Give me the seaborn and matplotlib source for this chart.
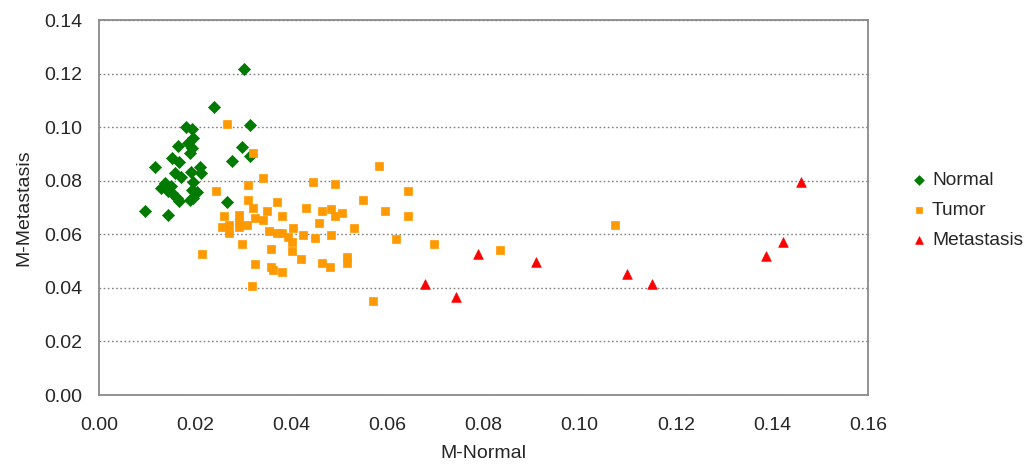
import matplotlib
matplotlib.use("Agg")
import matplotlib.pyplot as plt
import seaborn as sns
import pandas as pd

# Normal samples
normal_x = [0.0302, 0.0239, 0.0315, 0.0182, 0.0193, 0.0196, 0.0186, 0.0165, 0.0193,
            0.0189, 0.0297, 0.0314, 0.0276, 0.0151, 0.0167, 0.0117, 0.0210, 0.0158,
            0.0170, 0.0191, 0.0212, 0.0196, 0.0137, 0.0130, 0.0144, 0.0151, 0.0193,
            0.0203, 0.0162, 0.0189, 0.0196, 0.0166, 0.0267, 0.0096, 0.0144, 0.0149,
            0.0140]
normal_y = [0.1217, 0.1074, 0.1008, 0.0999, 0.0992, 0.0958, 0.0939, 0.0929, 0.0921,
            0.0904, 0.0927, 0.0892, 0.0873, 0.0883, 0.0869, 0.0852, 0.0850, 0.0828,
            0.0813, 0.0831, 0.0828, 0.0796, 0.0793, 0.0771, 0.0763, 0.0753, 0.0765,
            0.0759, 0.0736, 0.0728, 0.0736, 0.0724, 0.0722, 0.0688, 0.0671, 0.0781,
            0.0776]

# Tumor samples
tumor_x = [0.0267, 0.0321, 0.0583, 0.0342, 0.0446, 0.0492, 0.0309, 0.0243, 0.0309,
           0.0549, 0.0371, 0.0321, 0.0431, 0.0350, 0.0464, 0.0482, 0.0596, 0.0261,
           0.0292, 0.0381, 0.0492, 0.0506, 0.0292, 0.0324, 0.0342, 0.0256, 0.0271,
           0.0271, 0.0292, 0.0307, 0.0458, 0.0354, 0.0371, 0.0380, 0.0404, 0.0424,
           0.0393, 0.0402, 0.0450, 0.0482, 0.0531, 0.0298, 0.0214, 0.0357, 0.0402,
           0.0420, 0.0515, 0.0515, 0.0465, 0.0481, 0.0324, 0.0357, 0.0363, 0.0381,
           0.0318, 0.0570, 0.0642, 0.0642, 0.0617, 0.0697, 0.0835, 0.1074]
tumor_y = [0.1012, 0.0905, 0.0855, 0.0811, 0.0797, 0.0788, 0.0785, 0.0761, 0.0728,
           0.0728, 0.0720, 0.0700, 0.0697, 0.0688, 0.0688, 0.0693, 0.0688, 0.0668,
           0.0672, 0.0668, 0.0668, 0.0678, 0.0647, 0.0660, 0.0653, 0.0628, 0.0635,
           0.0606, 0.0628, 0.0635, 0.0641, 0.0613, 0.0604, 0.0604, 0.0622, 0.0597,
           0.0589, 0.0572, 0.0585, 0.0597, 0.0622, 0.0564, 0.0525, 0.0544, 0.0538,
           0.0509, 0.0514, 0.0492, 0.0492, 0.0477, 0.0488, 0.0479, 0.0467, 0.0459,
           0.0408, 0.0351, 0.0761, 0.0668, 0.0581, 0.0564, 0.0542, 0.0635]

# Metastasis samples
meta_x = [0.0678, 0.0743, 0.0789, 0.0909, 0.1098, 0.1151, 0.1388, 0.1423, 0.1461]
meta_y = [0.0414, 0.0367, 0.0525, 0.0498, 0.0452, 0.0414, 0.0520, 0.0572, 0.0795]

groups = ["Normal", "Tumor", "Metastasis"]
x_ticks = [0.00, 0.02, 0.04, 0.06, 0.08, 0.10, 0.12, 0.14, 0.16]
y_ticks = [0.00, 0.02, 0.04, 0.06, 0.08, 0.10, 0.12, 0.14]

df = pd.DataFrame({
    "M-Normal": normal_x + tumor_x + meta_x,
    "M-Metastasis": normal_y + tumor_y + meta_y,
    "Group": ["Normal"] * len(normal_x) + ["Tumor"] * len(tumor_x) + ["Metastasis"] * len(meta_x),
})

sns.set_style("white")
plt.rcParams["font.family"] = ["Liberation Sans", "DejaVu Sans"]

fig = plt.figure(figsize=(10.25, 4.65), dpi=100)
ax = fig.add_axes([99 / 1025, 1 - 395 / 465, 769 / 1025, 375 / 465])

palette = {"Normal": "#007A00", "Tumor": "#FF9900", "Metastasis": "#FF0000"}
markers = {"Normal": "D", "Tumor": "s", "Metastasis": "^"}
sizes = {"Normal": 38, "Tumor": 34, "Metastasis": 48}

for g in groups:
    sub = df[df["Group"] == g]
    sns.scatterplot(data=sub, x="M-Normal", y="M-Metastasis", color=palette[g],
                    marker=markers[g], s=sizes[g], edgecolor=palette[g], linewidth=0.5,
                    label=g, ax=ax, zorder=3)

ax.set_xlim(0, 0.16)
ax.set_ylim(0, 0.14)
ax.set_xticks(x_ticks)
ax.set_yticks(y_ticks)
ax.set_xticklabels([f"{v:.2f}" for v in x_ticks])
ax.set_yticklabels([f"{v:.2f}" for v in y_ticks])
ax.tick_params(axis="both", direction="out", length=4.5, width=1, color="#808080",
               labelsize=14, labelcolor="#262626")
ax.tick_params(axis="y", pad=7.5)
ax.tick_params(axis="x", pad=11)

ax.yaxis.grid(True, linestyle=(0, (1.2, 1.8)), color="#808080", linewidth=1.0, zorder=0)
ax.xaxis.grid(False)
for side in ["left", "bottom", "top", "right"]:
    ax.spines[side].set_visible(True)
    ax.spines[side].set_color("#8a8a8a")
    ax.spines[side].set_linewidth(1.3)

ax.set_xlabel("M-Normal", fontsize=14, color="#262626")
ax.set_ylabel("M-Metastasis", fontsize=14, color="#262626")
ax.xaxis.set_label_coords(0.5, -0.134)
ax.yaxis.set_label_coords(-0.086, 0.5)

leg = ax.legend(loc="center left", bbox_to_anchor=(1.032, 0.493), frameon=False,
                fontsize=13.8, handletextpad=0.15, labelspacing=0.65,
                handlelength=1.0, markerscale=0.8)
for t in leg.get_texts():
    t.set_color("#262626")

fig.savefig("out.png", dpi=100)
